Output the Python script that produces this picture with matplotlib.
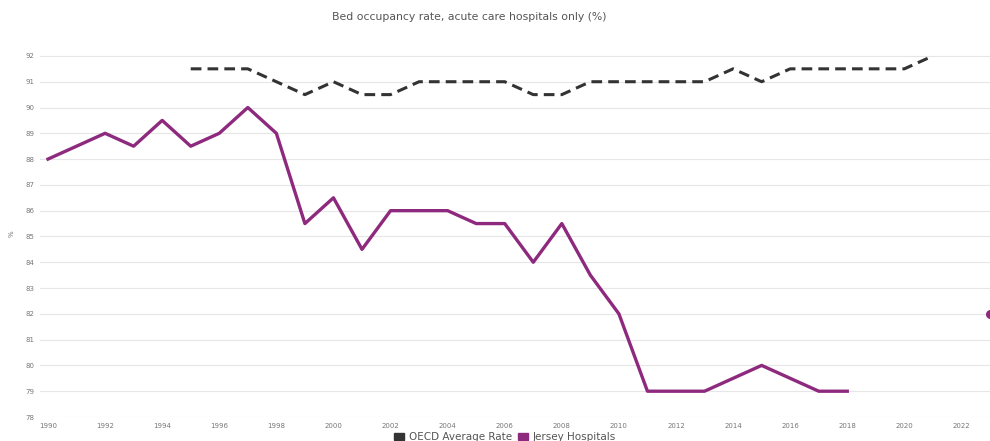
import matplotlib
matplotlib.use("Agg")
import matplotlib.pyplot as plt
from matplotlib.patches import Patch

# categories (years) and series values
years = [str(y) for y in range(1990, 2023)]
local_idx = list(range(0, 29))
local_rate = [88, 88.5, 89, 88.5, 89.5, 88.5, 89, 90, 89, 85.5,
              86.5, 84.5, 86, 86, 86, 85.5, 85.5, 84, 85.5, 83.5,
              82, 79, 79, 79, 79.5, 80, 79.5, 79, 79]
oecd_idx = list(range(5, 32))
oecd_rate = [91.5, 91.5, 91.5, 91, 90.5, 91, 90.5, 90.5, 91, 91,
             91, 91, 90.5, 90.5, 91, 91, 91, 91, 91, 91.5,
             91, 91.5, 91.5, 91.5, 91.5, 91.5, 92]
extra_idx = [33]
extra_rate = [82]
series_names = ["OECD Average Rate", "Jersey Hospitals"]

purple = "#8e2a7e"
dark = "#333333"

fig = plt.figure(figsize=(9.9, 4.41), dpi=100)
ax = fig.add_axes([40 / 990, 1 - 417 / 441, 950 / 990, 367 / 441])

ax.plot(oecd_idx, oecd_rate, color=dark, lw=2.2, dashes=(3.5, 2),
        solid_capstyle="butt")
ax.plot(local_idx, local_rate, color=purple, lw=2.4)
ax.plot(extra_idx, extra_rate, "o", color=purple, ms=5.5, clip_on=False)

ax.set_xlim(-0.28, 33)
ax.set_ylim(78, 92.23)
ax.set_yticks(range(78, 93))
ax.set_xticks(range(0, 33, 2))
ax.set_xticklabels(years[::2])
ax.tick_params(length=0, labelsize=5, colors="#777777", pad=4)
ax.grid(axis="y", color="#e6e6e6", lw=0.8)
ax.set_axisbelow(True)
for s in ax.spines.values():
    s.set_visible(False)
ax.set_ylabel("%", fontsize=5, color="#777777", labelpad=8)

fig.text(0.474, 0.955, "Bed occupancy rate, acute care hospitals only (%)",
         ha="center", fontsize=7.8, color="#555555")
handles = [Patch(color=dark), Patch(color=purple)]
fig.legend(handles, series_names, loc="lower center",
           bbox_to_anchor=(0.51, -0.024), ncol=2, frameon=False,
           fontsize=7.5, handlelength=1.0, handleheight=0.7,
           columnspacing=0.6, handletextpad=0.4, labelcolor="#555555")

fig.savefig("out.png", dpi=100)
